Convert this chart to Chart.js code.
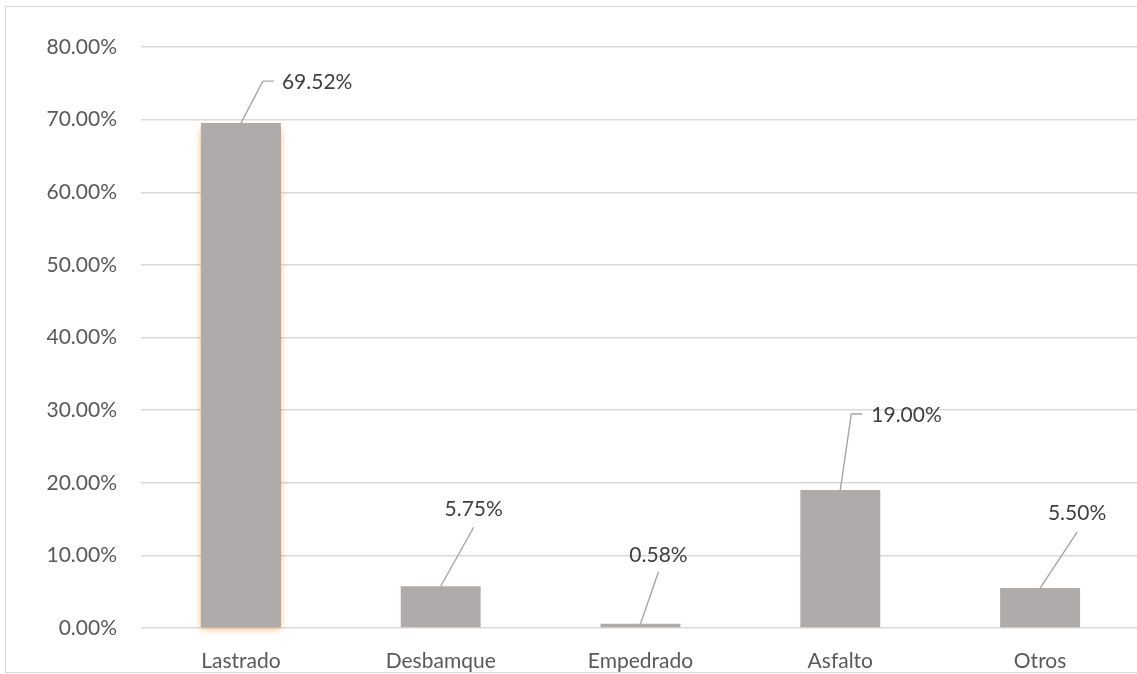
<!DOCTYPE html>
<html>
<head>
<meta charset="utf-8">
<script src="https://cdn.jsdelivr.net/npm/chart.js@4"></script>
<style>
  body { margin: 0; background: #fff; overflow: hidden; width: 1137px; height: 674px; position: relative; }
  #marco { position: absolute; left: 5px; top: 6px; width: 1200px; height: 665px; border: 1.5px solid #d9d9d9; }
  #grafica { position: absolute; left: 0; top: 0; }
</style>
</head>
<body>
<div id="marco"></div>
<canvas id="grafica" width="1150" height="674"></canvas>
<script>
// Datos del gráfico
const categorias = ["Lastrado", "Desbamque", "Empedrado", "Asfalto", "Otros"];
const porcentajes = [69.52, 5.75, 0.58, 19.00, 5.50];
const ticksEje = [0, 10, 20, 30, 40, 50, 60, 70, 80];

// Posición de cada etiqueta respecto a la parte superior de la barra
const guias = [
  { dx: 22, dy: -42, hx: 33, tx: 41, ty: -41, align: "left" },
  { dx: 33, dy: -59, tx: 33, ty: -77, align: "center" },
  { dx: 18, dy: -52, tx: 18, ty: -69, align: "center" },
  { dx: 11, dy: -76, hx: 22, tx: 31, ty: -75, align: "left" },
  { dx: 37, dy: -56, tx: 37, ty: -75, align: "center" },
];

const fuente = "Lato, 'Open Sans', sans-serif";
const colorBarra = "#afabab";

// Brillo naranja alrededor de la primera barra
const brillo = {
  id: "brillo",
  beforeDatasetsDraw(chart) {
    const barra = chart.getDatasetMeta(0).data[0];
    if (!barra) return;
    const ctx = chart.ctx;
    ctx.save();
    ctx.shadowColor = "rgba(247,150,70,0.75)";
    ctx.shadowBlur = 7;
    ctx.shadowOffsetY = 2;
    ctx.fillStyle = colorBarra;
    ctx.fillRect(barra.x - barra.width / 2, barra.y + 4, barra.width, barra.base - barra.y - 4);
    ctx.restore();
  },
};

// Etiquetas de datos con líneas guía
const etiquetas = {
  id: "etiquetas",
  afterDatasetsDraw(chart) {
    const ctx = chart.ctx;
    chart.getDatasetMeta(0).data.forEach((barra, i) => {
      const g = guias[i];
      ctx.save();
      ctx.strokeStyle = "#a6a6a6";
      ctx.lineWidth = 1.4;
      ctx.beginPath();
      ctx.moveTo(barra.x, barra.y);
      ctx.lineTo(barra.x + g.dx, barra.y + g.dy);
      if (g.hx) ctx.lineTo(barra.x + g.hx, barra.y + g.dy);
      ctx.stroke();
      ctx.fillStyle = "#404040";
      ctx.font = "21px " + fuente;
      ctx.textAlign = g.align;
      ctx.textBaseline = "middle";
      ctx.fillText(porcentajes[i].toFixed(2) + "%", barra.x + g.tx, barra.y + g.ty);
      ctx.restore();
    });
  },
};

new Chart(document.getElementById("grafica"), {
  type: "bar",
  data: {
    labels: categorias,
    datasets: [
      {
        data: porcentajes,
        backgroundColor: colorBarra,
        barPercentage: 0.4,
        categoryPercentage: 1,
      },
    ],
  },
  options: {
    responsive: false,
    animation: false,
    devicePixelRatio: 1,
    layout: { padding: { top: 47, right: 10, bottom: 0, left: 0 } },
    plugins: { legend: { display: false }, tooltip: { enabled: false } },
    scales: {
      x: {
        grid: { display: false },
        border: { display: false },
        ticks: { color: "#595959", font: { family: fuente, size: 21 }, padding: 13 },
        afterFit: (escala) => { escala.height = 46; },
      },
      y: {
        min: 0,
        max: 80,
        afterBuildTicks: (escala) => { escala.ticks = ticksEje.map((v) => ({ value: v })); },
        grid: { color: "#d9d9d9", lineWidth: 1.5, drawTicks: false },
        border: { display: false },
        ticks: {
          color: "#595959",
          font: { family: fuente, size: 21 },
          padding: 24,
          callback: (v) => v.toFixed(2) + "%",
        },
        afterFit: (escala) => { escala.width = 141; },
      },
    },
  },
  plugins: [brillo, etiquetas],
});
</script>
</body>
</html>
